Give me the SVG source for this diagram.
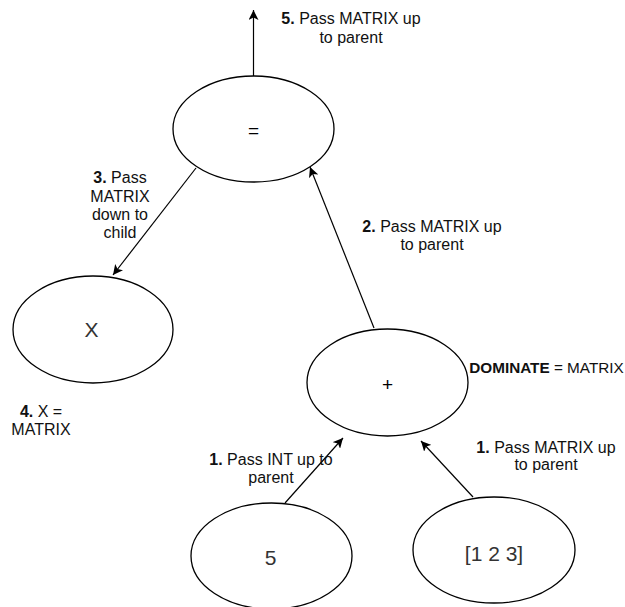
<svg xmlns="http://www.w3.org/2000/svg" width="625" height="607" viewBox="0 0 625 607">
  <style>
    .node ellipse { fill: #ffffff; stroke: #000000; stroke-width: 1.3; }
    .val { font-family: "Liberation Sans", Arial, sans-serif; font-size: 21px; fill: #333333; text-anchor: middle; }
    .op { font-family: "Liberation Sans", Arial, sans-serif; font-size: 19px; fill: #000000; text-anchor: middle; }
    .lbl { font-family: "Liberation Sans", Arial, sans-serif; font-size: 16px; fill: #111111; text-anchor: middle; }
    .lbl tspan.b { font-weight: bold; }
    .edge { stroke: #000000; stroke-width: 1.2; fill: none; marker-end: url(#arrow); }
  </style>
  <defs>
    <marker id="arrow" viewBox="0 0 10 10" refX="10" refY="5" markerWidth="10" markerHeight="10" markerUnits="userSpaceOnUse" orient="auto">
      <path d="M0,0 L10,5 L0,10 L2.5,5 Z" fill="#000000"/>
    </marker>
  </defs>
  <rect width="625" height="607" fill="#ffffff"/>

  <!-- connectors -->
  <g id="edges">
    <line class="edge" x1="253.5" y1="76" x2="253.5" y2="10"/>
    <line class="edge" x1="196" y1="168" x2="113" y2="275"/>
    <line class="edge" x1="374" y1="328" x2="310" y2="167"/>
    <line class="edge" x1="285" y1="503" x2="343" y2="438"/>
    <line class="edge" x1="473" y1="497" x2="421" y2="441"/>
  </g>

  <!-- nodes -->
  <g id="node-assign" class="node">
    <ellipse cx="253.5" cy="129" rx="80.5" ry="53"/>
    <text class="op" x="253.5" y="136.5">=</text>
  </g>
  <g id="node-x" class="node">
    <ellipse cx="93" cy="329.5" rx="80" ry="53.5"/>
    <text class="val" x="91.5" y="337">X</text>
  </g>
  <g id="node-plus" class="node">
    <ellipse cx="387.5" cy="382.5" rx="80.5" ry="53.5"/>
    <text class="op" x="387.5" y="391">+</text>
  </g>
  <g id="node-five" class="node">
    <ellipse cx="271.5" cy="556" rx="80.5" ry="53"/>
    <text class="val" x="270.5" y="565">5</text>
  </g>
  <g id="node-vector" class="node">
    <ellipse cx="494" cy="550" rx="81" ry="53"/>
    <text class="val" x="494" y="561">[1 2 3]</text>
  </g>

  <!-- annotations -->
  <g id="labels">
    <text class="lbl" x="351" y="24"><tspan class="b">5.</tspan> Pass MATRIX up</text>
    <text class="lbl" x="351" y="43">to parent</text>

    <text class="lbl" x="120" y="183"><tspan class="b">3.</tspan> Pass</text>
    <text class="lbl" x="120" y="202">MATRIX</text>
    <text class="lbl" x="120" y="220">down to</text>
    <text class="lbl" x="120" y="238">child</text>

    <text class="lbl" x="432" y="232"><tspan class="b">2.</tspan> Pass MATRIX up</text>
    <text class="lbl" x="432" y="250">to parent</text>

    <text class="lbl" x="546.5" y="373" style="font-size:15.3px"><tspan class="b">DOMINATE</tspan> = MATRIX</text>

    <text class="lbl" x="41" y="417"><tspan class="b">4.</tspan> X =</text>
    <text class="lbl" x="41" y="435">MATRIX</text>

    <text class="lbl" x="271" y="465"><tspan class="b">1.</tspan> Pass INT up to</text>
    <text class="lbl" x="271" y="483">parent</text>

    <text class="lbl" x="546" y="453"><tspan class="b">1.</tspan> Pass MATRIX up</text>
    <text class="lbl" x="546" y="470">to parent</text>
  </g>
</svg>
